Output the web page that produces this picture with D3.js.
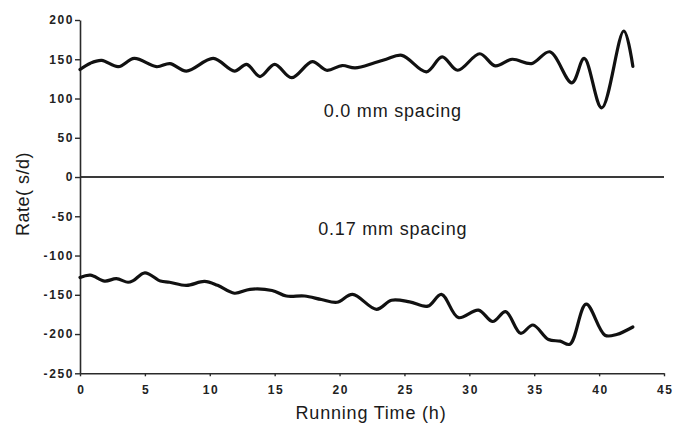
<!DOCTYPE html>
<html>
<head>
<meta charset="utf-8">
<script src="https://cdn.jsdelivr.net/npm/d3@7"></script>
<style>
  html, body { margin: 0; padding: 0; background: #fff; }
  svg { display: block; font-family: "Liberation Sans", Arial, Helvetica, sans-serif; }
</style>
</head>
<body>
<svg id="chart" width="673" height="424"></svg>
<script>
// Running time (h) and rate (s/d) for the two spacings
const timeWide = [0, 0.8, 1.67, 2.95, 4.18, 5.9, 6.93, 8.2, 10.27, 11.9, 12.84, 13.87, 15.0, 16.3, 17.9, 19.0, 20.2, 21.2, 22.7, 23.6, 24.8, 26.7, 27.9, 29.1, 30.8, 32.0, 33.3, 34.8, 36.2, 37.9, 38.85, 40.2, 41.9, 42.6];
const rateWide = [137, 145, 148.5, 140.5, 151, 140.5, 144.5, 135, 151, 135, 143.5, 128, 143.5, 126.5, 147, 136, 142, 139, 145.5, 150, 155, 134, 153, 136, 157, 141.5, 150, 144.5, 159.5, 120, 151, 88, 186, 141];

const timeNarrow = [0, 0.8, 1.9, 2.8, 3.7, 4.1, 5.0, 6.2, 6.9, 8.2, 9.6, 10.6, 11.9, 13.1, 14.8, 15.9, 17.3, 18.6, 19.8, 21.0, 22.85, 24.0, 25.4, 26.8, 27.85, 29.15, 30.7, 31.8, 32.8, 33.95, 34.9, 36.1, 37.0, 37.75, 39.0, 40.45, 41.35, 42.6];
const rateNarrow = [-128, -125, -132.5, -129.5, -134, -132, -122, -132.5, -134, -138, -133, -138, -148, -143, -144.5, -151.5, -151.5, -156, -159.5, -149.5, -168.5, -157, -159, -164.5, -149.5, -179, -169.5, -184, -171.5, -199, -188.5, -207, -209, -213, -162, -201.5, -200.5, -191];

const xTicks = [0, 5, 10, 15, 20, 25, 30, 35, 40, 45];
const yTicks = [200, 150, 100, 50, 0, -50, -100, -150, -200, -250];

const seriesLabels = ["0.0 mm spacing", "0.17 mm spacing"];
const labelAnchors = [[24.1, 76], [24.1, -74]]; // [time, rate] where each caption sits

const svg = d3.select("#chart");
const plotLeft = 80, plotRight = 664, plotTop = 20, plotBottom = 373.3;

const x = d3.scaleLinear().domain([0, 45]).range([plotLeft, plotRight]);
const y = d3.scaleLinear().domain([-250, 200]).range([plotBottom, plotTop]);

const ink = "#2a2a2a";
const plain = d => String(d); // hyphen-minus labels

// zero reference line
svg.append("line")
  .attr("x1", x(0)).attr("x2", x(45))
  .attr("y1", y(0)).attr("y2", y(0))
  .attr("stroke", "#3a3a3a").attr("stroke-width", 2);

// axes
const yAxis = svg.append("g")
  .attr("transform", `translate(${plotLeft},0)`)
  .call(d3.axisLeft(y).tickValues(yTicks).tickFormat(plain).tickSize(5).tickPadding(1).tickSizeOuter(0));
const xAxis = svg.append("g")
  .attr("transform", `translate(0,${plotBottom})`)
  .call(d3.axisBottom(x).tickValues(xTicks).tickFormat(plain).tickSize(3).tickPadding(9).tickSizeOuter(0));

[yAxis, xAxis].forEach(g => {
  g.select(".domain").attr("stroke", ink).attr("stroke-width", 1.6);
  g.selectAll(".tick line").attr("stroke", ink).attr("stroke-width", 1.4);
  g.selectAll(".tick text")
    .attr("fill", "#222")
    .style("font-size", "12px")
    .style("font-weight", "bold")
    .style("letter-spacing", "1.6px")
    .style("font-family", "'Liberation Sans', Arial, sans-serif");
});
// keep the bottom labels centred under their ticks despite the tracking
xAxis.selectAll(".tick text").attr("dx", "0.8px");

// curves
const line = d3.line()
  .x(d => x(d[0]))
  .y(d => y(d[1]))
  .curve(d3.curveCatmullRom.alpha(0.5));

const series = [
  d3.zip(timeWide, rateWide),
  d3.zip(timeNarrow, rateNarrow)
];

svg.selectAll("path.rate")
  .data(series)
  .join("path")
  .attr("class", "rate")
  .attr("d", line)
  .attr("fill", "none")
  .attr("stroke", "#111")
  .attr("stroke-width", 3.2)
  .attr("stroke-linejoin", "round")
  .attr("stroke-linecap", "round");

// captions
svg.selectAll("text.caption")
  .data(seriesLabels)
  .join("text")
  .attr("class", "caption")
  .attr("x", (d, i) => x(labelAnchors[i][0]))
  .attr("y", (d, i) => y(labelAnchors[i][1]))
  .attr("text-anchor", "middle")
  .attr("fill", "#1a1a1a")
  .style("font-size", "18px")
  .style("letter-spacing", "0.8px")
  .text(d => d);

// axis titles
svg.append("text")
  .attr("x", 371).attr("y", 419)
  .attr("text-anchor", "middle")
  .attr("fill", "#1a1a1a")
  .style("font-size", "18px")
  .style("letter-spacing", "0.8px")
  .text("Running Time (h)");

svg.append("text")
  .attr("transform", "translate(29,194) rotate(-90)")
  .attr("text-anchor", "middle")
  .attr("fill", "#1a1a1a")
  .style("font-size", "18px")
  .style("letter-spacing", "0.5px")
  .text("Rate( s/d)");
</script>
</body>
</html>
